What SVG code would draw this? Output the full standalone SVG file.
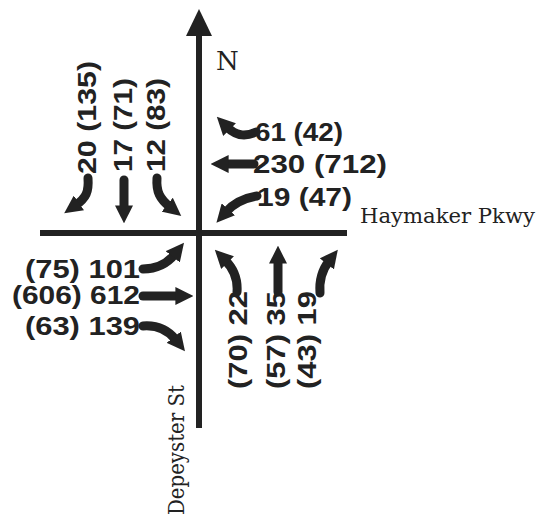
<svg xmlns="http://www.w3.org/2000/svg" width="538" height="523" viewBox="0 0 538 523">
<style>
.num{font-family:"Liberation Sans",Arial,sans-serif;font-weight:bold;font-size:25px;fill:#222}
.ser{font-family:"DejaVu Serif","Liberation Serif",serif;fill:#222}
.road{stroke:#222;stroke-width:6;fill:none}
.mv{stroke:#222;stroke-width:9;fill:none;stroke-linecap:round;marker-end:url(#ah)}
</style>
<defs>
<marker id="ah" viewBox="0 0 10 10" refX="2" refY="5" markerWidth="18" markerHeight="18" markerUnits="userSpaceOnUse" orient="auto">
<path d="M0,0 L10,5 L0,10 z" fill="#222"/>
</marker>
</defs>
<rect width="538" height="523" fill="#fff"/>
<g id="roads">
<line class="road" x1="199" y1="32" x2="199" y2="428"/>
<polygon points="199,9 212,36 186,36" fill="#222"/>
<line class="road" x1="40" y1="233" x2="347" y2="233"/>
</g>
<g id="north-label"><text class="ser" x="216" y="70" font-size="26">N</text></g>
<g id="haymaker-label"><text class="ser" x="360" y="223" font-size="21" textLength="175" lengthAdjust="spacingAndGlyphs">Haymaker Pkwy</text></g>
<g id="depeyster-label"><text class="ser" transform="translate(184,515) rotate(-90)" font-size="23" textLength="130" lengthAdjust="spacingAndGlyphs">Depeyster St</text></g>
<g id="southbound">
<text class="num" transform="translate(96,174) rotate(-90)" textLength="113" lengthAdjust="spacingAndGlyphs">20 (135)</text>
<text class="num" transform="translate(132,172) rotate(-90)" textLength="94" lengthAdjust="spacingAndGlyphs">17 (71)</text>
<text class="num" transform="translate(165,172) rotate(-90)" textLength="94" lengthAdjust="spacingAndGlyphs">12 (83)</text>
</g>
<g id="westbound">
<text class="num" x="255" y="141" textLength="88" lengthAdjust="spacingAndGlyphs">61 (42)</text>
<text class="num" x="253" y="173" textLength="134" lengthAdjust="spacingAndGlyphs">230 (712)</text>
<text class="num" x="257" y="206" textLength="95" lengthAdjust="spacingAndGlyphs">19 (47)</text>
</g>
<g id="eastbound">
<text class="num" x="25" y="278" textLength="115" lengthAdjust="spacingAndGlyphs">(75) 101</text>
<text class="num" x="12" y="304" textLength="128" lengthAdjust="spacingAndGlyphs">(606) 612</text>
<text class="num" x="25" y="335" textLength="115" lengthAdjust="spacingAndGlyphs">(63) 139</text>
</g>
<g id="northbound">
<text class="num" transform="translate(247,389) rotate(-90)" textLength="98" lengthAdjust="spacingAndGlyphs">(70) 22</text>
<text class="num" transform="translate(285,389) rotate(-90)" textLength="98" lengthAdjust="spacingAndGlyphs">(57) 35</text>
<text class="num" transform="translate(316,389) rotate(-90)" textLength="98" lengthAdjust="spacingAndGlyphs">(43) 19</text>
</g>
<g id="connectors">
<path class="mv" d="M88,178 C89,192 86,198 76,205"/>
<path class="mv" d="M124,180 L124,209"/>
<path class="mv" d="M157,178 C156,192 160,199 170,207"/>
<path class="mv" d="M256,132 C245,137 236,136 227,127"/>
<path class="mv" d="M254,164 L225,164"/>
<path class="mv" d="M257,196 C245,198 234,203 226,212"/>
<path class="mv" d="M143,269 C156,269 167,264 175,254"/>
<path class="mv" d="M143,296 L179,296"/>
<path class="mv" d="M143,326 C156,325 168,330 176,340"/>
<path class="mv" d="M237,292 C238,279 234,269 225,260"/>
<path class="mv" d="M278,292 L278,260"/>
<path class="mv" d="M320,293 C319,280 322,270 329,261"/>
</g>
</svg>
